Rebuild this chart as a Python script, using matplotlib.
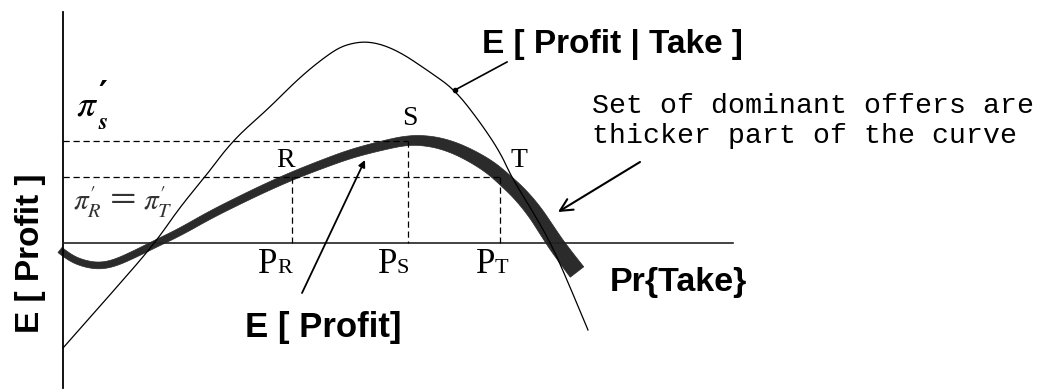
import numpy as np
import matplotlib
matplotlib.use("Agg")
import matplotlib.pyplot as plt

plt.rcParams['mathtext.fontset'] = 'stix'

# Pr{Take} axis runs right, E[Profit] runs up; origin where the axes cross
# E[Profit | Take] (thin curve)
take_x = [0, 54, 92, 117, 142, 170, 204, 237, 267, 284, 307, 334, 367, 392,
          417, 437, 449, 467, 485, 500, 525]
take_y = [-105, -44, 0, 36, 66, 103, 133, 166, 190, 199, 202, 193, 171, 153,
          121, 91, 65, 36, 5, -27, -87]

# E[Profit] (thick curve)
profit_x = [-3, 7, 22, 37, 52, 72, 92, 117, 147, 177, 202, 229, 257, 287, 317,
            345, 367, 387, 407, 427, 442, 457, 472, 485, 497, 514]
profit_y = [-7, -15, -21, -23, -20, -11, -1, 11, 28, 43, 55, 67, 78, 89, 97,
            103, 102, 97, 88, 76, 63, 49, 31, 11, -7, -29]

# points R, S, T: (Pr{Take}, E[Profit])
point_names = ['R', 'S', 'T']
point_x = [229, 345, 437]
point_y = [66, 102, 66]


def smooth(x, y, steps=12):
    # quadratic B-spline through the control points (same shape a CURVE3 path gives)
    p = np.column_stack([x, y]).astype(float)
    mids = (p[:-1] + p[1:]) / 2
    out = [p[0]]
    start = p[0]
    for i in range(1, len(p) - 1):
        end = mids[i] if i < len(p) - 2 else p[-1]
        t = np.linspace(0, 1, steps)[1:, None]
        seg = (1 - t) ** 2 * start + 2 * (1 - t) * t * p[i] + t ** 2 * end
        out.extend(seg)
        start = end
    out = np.array(out)
    return out[:, 0], out[:, 1]


fig = plt.figure(figsize=(10.4, 3.9), dpi=100)
ax = fig.add_axes([0, 0, 1, 1])
ax.set_xlim(-63, 977)
ax.set_ylim(-147, 243)
ax.axis('off')

# axes
ax.plot([0, 0], [-145, 231], color='black', lw=1.3)
ax.plot([0, 670], [0, 0], color='#222222', lw=1.2)

# thin curve
tx, ty = smooth(take_x, take_y)
ax.plot(tx, ty, color='black', lw=0.9)

# thick curve drawn as a band that widens towards the right
px, py = smooth(profit_x, profit_y)
width = np.interp(px, [0, 230, 345, 514], [6.5, 8, 9.5, 17])
dx = np.gradient(px)
dy = np.gradient(py)
norm = np.hypot(dx, dy)
nx, ny = -dy / norm, dx / norm
upper_x, upper_y = px + nx * width / 2, py + ny * width / 2
lower_x, lower_y = px - nx * width / 2, py - ny * width / 2
ax.fill(np.concatenate([upper_x, lower_x[::-1]]),
        np.concatenate([upper_y, lower_y[::-1]]),
        color='#2b2b2b', lw=0.5, ec='#2b2b2b')

# dashed guides
dash = dict(color='black', lw=0.9, ls=(0, (5, 3)))
ax.plot([0, point_x[1]], [point_y[1], point_y[1]], **dash)
ax.plot([0, point_x[2]], [point_y[0], point_y[0]], **dash)
for xv, yv in zip(point_x, point_y):
    ax.plot([xv, xv], [yv, 0], **dash)

serif = 'Liberation Serif'
label_dx = [-6, 2, 19]
label_dy = [10, 16, 10]
for xv, yv, name, ox, oy in zip(point_x, point_y, point_names, label_dx, label_dy):
    ax.text(xv + ox, yv + oy, name, family=serif, fontsize=20,
            ha='center', va='baseline')

# P_R, P_S, P_T under the axis
sub_dx = [-15, -11, -5]
for xv, name, ox in zip(point_x, point_names, sub_dx):
    ax.text(xv + ox, -30, 'P', family=serif, fontsize=25, ha='right',
            va='baseline')
    ax.text(xv + ox, -30, name, family=serif, fontsize=16, ha='left',
            va='baseline')

# pi labels on the vertical axis
ax.text(13, 128, r"$\pi$", fontsize=27, ha='left', va='baseline')
ax.text(35, 138, "\u2032", family='DejaVu Serif', fontweight='bold',
        fontsize=24, ha='left', va='baseline')
ax.text(35, 114, r"$\boldsymbol{s}$", fontsize=17, ha='left', va='baseline')

grey = '#333333'
ax.text(10, 33, r"$\pi_R^{\prime}$", fontsize=21, color=grey,
        ha='left', va='baseline')
ax.text(45, 33, "\uff1d", family='Noto Sans CJK JP', fontsize=22,
        color=grey, ha='left', va='baseline')
ax.text(80, 33, r"$\pi_T^{\prime}$", fontsize=21, color=grey,
        ha='left', va='baseline')

sans = 'Liberation Sans'
ax.text(419, 198, 'E [ Profit | Take ]', family=sans, fontweight='bold',
        fontsize=24, ha='left', va='center')
ax.plot([444, 392], [181, 153], color='black', lw=1.2)
ax.plot([392], [153], 'o', color='black', ms=3)

ax.text(182, -84, 'E [ Profit]', family=sans, fontweight='bold',
        fontsize=25, ha='left', va='center')
ax.annotate('', xy=(302, 83), xytext=(239, -50),
            arrowprops=dict(arrowstyle='-|>', color='black', lw=1.3,
                            mutation_scale=10, shrinkA=0, shrinkB=0))

ax.text(547, -39, 'Pr{Take}', family=sans, fontweight='bold',
        fontsize=24.5, ha='left', va='center')

ax.text(-32, -10, 'E [ Profit ]', family=sans, fontweight='bold',
        fontsize=24, rotation=90, ha='center', va='center')

mono = 'Liberation Mono'
ax.text(529, 130, 'Set of dominant offers are', family=mono, fontsize=20.3,
        ha='left', va='baseline')
ax.text(529, 100, 'thicker part of the curve', family=mono, fontsize=20.3,
        ha='left', va='baseline')
ax.annotate('', xy=(495, 31), xytext=(577, 81),
            arrowprops=dict(arrowstyle='->', color='black', lw=1.5,
                            mutation_scale=22, shrinkA=0, shrinkB=0))

fig.savefig('out.png', dpi=100)
